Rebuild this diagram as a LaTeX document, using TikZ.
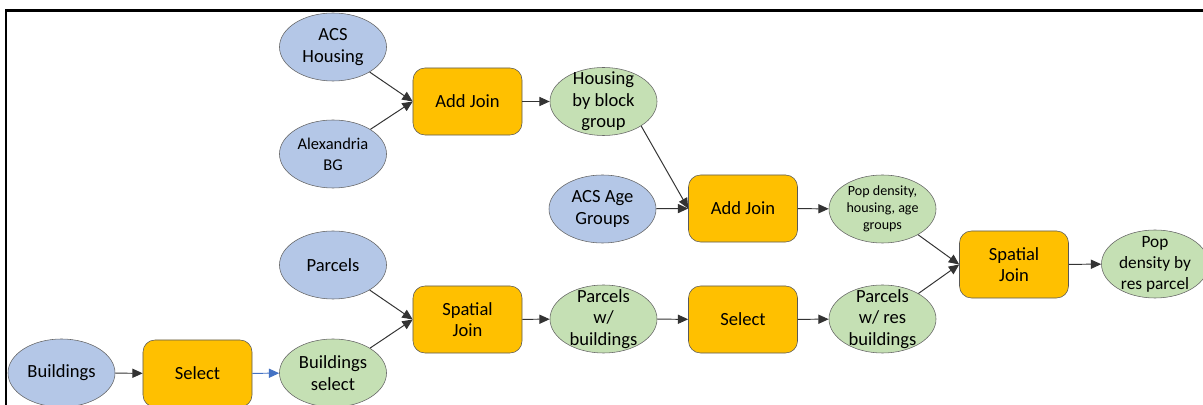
\documentclass[tikz,border=0pt]{standalone}
\usepackage{fontspec}
\setmainfont{Carlito}
\usetikzlibrary{arrows.meta, shapes.geometric}

\definecolor{srcblue}{HTML}{B4C7E7}
\definecolor{outgreen}{HTML}{C5E0B4}
\definecolor{toolgold}{HTML}{FFC000}
\definecolor{linkblue}{HTML}{4472C4}

\tikzset{
  tool/.style={rectangle, rounded corners=0.3cm, draw=black!65, fill=toolgold,
    minimum width=2.725cm, minimum height=1.675cm, inner sep=0pt, align=center,
    font=\fontsize{13.2}{15.4}\selectfont},
  data/.style={ellipse, draw=black!60, minimum width=2.675cm, minimum height=1.7cm, inner sep=0pt},
  src/.style={data, fill=srcblue},
  res/.style={data, fill=outgreen},
  every label/.style={align=center, inner sep=0pt, font=\fontsize{13.2}{15.4}\selectfont},
}

\begin{document}
\begin{tikzpicture}[x=0.025cm, y=-0.025cm, >={Triangle[length=0.26cm, width=0.23cm]}]
    \useasboundingbox (0,0) rectangle (1203,405);
    \draw[line width=1.5pt] (6,405) -- (6,10.5) -- (1203,10.5);

    % Housing branch
    \node[src, label={center:ACS\\Housing}] (acsh) at (333,47) {};
    \node[src, label={[font=\fontsize{11.7}{15}\selectfont]center:Alexandria\\BG}] (albg) at (333,154) {};
    \node[tool] (aj1) at (467.5,101.5) {Add Join};
    \node[res, label={center:Housing\\by block\\group}] (hbg) at (603.5,101.5) {};
    \node[src, label={center:ACS Age\\Groups}] (acsa) at (602.5,209) {};
    \node[tool] (aj2) at (743,208.5) {Add Join};
    \node[res, label={[font=\fontsize{10}{11.9}\selectfont]center:Pop density,\\housing, age\\groups}] (pdh) at (882.5,209) {};

    % Parcels branch
    \node[src, label={center:Parcels}] (parc) at (333,265) {};
    \node[src, label={center:Buildings}] (bldg) at (61.5,373) {};
    \node[tool] (sel1) at (197.5,373.5) {Select};
    \node[res, label={center:Buildings\\select}] (bsel) at (333,373) {};
    \node[tool] (sj2) at (467.5,319.5) {Spatial\\Join};
    \node[res, label={center:Parcels\\w/\\buildings}] (pwb) at (603.5,319) {};
    \node[tool] (sel2) at (743,319.5) {Select};
    \node[res, label={center:Parcels\\w/ res\\buildings}] (pwrb) at (882.5,319) {};

    % Final join
    \node[tool] (sj3) at (1014,264.5) {Spatial\\Join};
    \node[res, label={[font=\fontsize{12.3}{15}\selectfont]center:Pop\\density by\\res parcel}] (pdrp) at (1155,264) {};

    % Draw the edges
    \path[->, color=black!80, line width=0.7pt]
  (acsh) edge (aj1.west)
  (albg) edge (aj1.west)
  (aj1) edge (hbg)
  (hbg.-33) edge (aj2.west)
  (acsa) edge (aj2.west)
  (aj2) edge (pdh)
  (pdh) edge (sj3.west)
  (parc) edge (sj2.west)
  (bsel) edge (sj2.west)
  (bldg) edge (sel1)
  (sj2) edge (pwb)
  (pwb) edge (sel2)
  (sel2) edge (pwrb)
  (pwrb) edge (sj3.west)
  (sj3) edge (pdrp);
    \path[->, color=linkblue, line width=0.7pt] (sel1) edge (bsel);

\end{tikzpicture}
\end{document}
